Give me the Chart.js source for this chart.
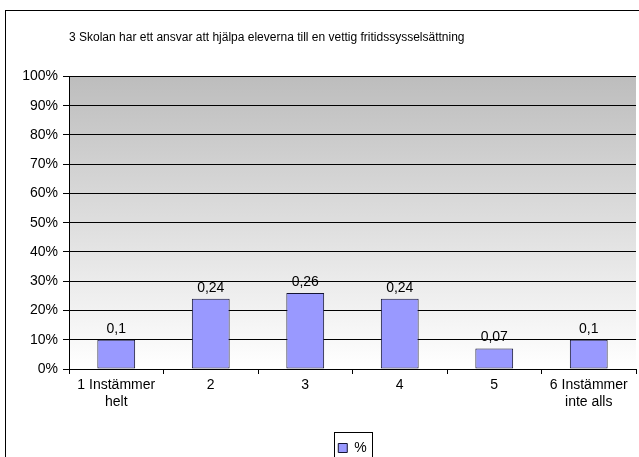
<!DOCTYPE html>
<html>
<head>
<meta charset="utf-8">
<script src="https://cdn.jsdelivr.net/npm/chart.js@4/dist/chart.umd.min.js"></script>
<style>
  html, body { margin: 0; padding: 0; background: #ffffff; }
  #wrap { width: 639px; height: 457px; }
</style>
</head>
<body>
<div id="wrap"><canvas id="chart" width="639" height="457"></canvas></div>
<script>
const titleText = "3 Skolan har ett ansvar att hjälpa eleverna till en vettig fritidssysselsättning";
const categories = [
  ["1 Instämmer", "helt"],
  "2",
  "3",
  "4",
  "5",
  ["6 Instämmer", "inte alls"],
];
const seriesName = "%";
const values = [0.1, 0.24, 0.26, 0.24, 0.07, 0.1];
const yTicks = [0, 0.1, 0.2, 0.3, 0.4, 0.5, 0.6, 0.7, 0.8, 0.9, 1];

const FONT = "'Liberation Sans', Arial, sans-serif";

// plot background, outer frame and legend frame
const decorPlugin = {
  id: "decor",
  beforeDraw(chart) {
    const { ctx, chartArea } = chart;
    ctx.save();
    const g = ctx.createLinearGradient(0, chartArea.top, 0, chartArea.bottom);
    g.addColorStop(0, "#bdbdbd");
    g.addColorStop(1, "#ffffff");
    ctx.fillStyle = g;
    ctx.fillRect(chartArea.left, chartArea.top, chartArea.right - chartArea.left, chartArea.bottom - chartArea.top);
    ctx.strokeStyle = "#000000";
    ctx.lineWidth = 1;
    ctx.strokeRect(5.5, 10.5, 700, 500);
    ctx.restore();
  },
  afterDraw(chart) {
    const { ctx } = chart;
    const lg = chart.legend;
    if (!lg || !lg.legendHitBoxes || !lg.legendHitBoxes.length) return;
    const hb = lg.legendHitBoxes[0];
    ctx.save();
    ctx.strokeStyle = "#000000";
    ctx.lineWidth = 1;
    ctx.strokeRect(Math.round(hb.left) - 3.5, Math.round(hb.top) - 8.5, Math.round(hb.width) + 10, 40);
    ctx.restore();
  },
};

// value labels above bars
const valueLabels = {
  id: "valueLabels",
  afterDatasetsDraw(chart) {
    const { ctx } = chart;
    const meta = chart.getDatasetMeta(0);
    ctx.save();
    ctx.font = "14px " + FONT;
    ctx.fillStyle = "#000000";
    ctx.textAlign = "center";
    ctx.textBaseline = "bottom";
    meta.data.forEach((bar, i) => {
      const txt = String(values[i]).replace(".", ",");
      ctx.fillText(txt, bar.x, bar.y - 4);
    });
    ctx.restore();
  },
};

new Chart(document.getElementById("chart"), {
  type: "bar",
  data: {
    labels: categories,
    datasets: [
      {
        label: seriesName,
        data: values,
        backgroundColor: "#9999ff",
        borderColor: "#141433",
        borderWidth: 1,
        borderSkipped: false,
        barPercentage: 0.4,
        categoryPercentage: 1,
      },
    ],
  },
  options: {
    responsive: false,
    animation: false,
    layout: { padding: { left: 0, right: 3, top: 0, bottom: -8 } },
    plugins: {
      title: {
        display: true,
        fullSize: false,
        align: "start",
        text: titleText,
        color: "#000000",
        font: { family: FONT, size: 12, weight: "normal" },
        padding: { top: 30, bottom: 32 },
      },
      legend: {
        display: true,
        fullSize: false,
        position: "bottom",
        labels: {
          color: "#000000",
          font: { family: FONT, size: 14 },
          boxWidth: 9,
          boxHeight: 9,
          padding: 2,
          generateLabels() {
            return [{
              text: seriesName,
              fillStyle: "#9999ff",
              strokeStyle: "#141433",
              lineWidth: 1,
              datasetIndex: 0,
            }];
          },
        },
      },
      tooltip: { enabled: false },
    },
    scales: {
      x: {
        offset: true,
        grid: {
          offset: true,
          drawOnChartArea: false,
          drawTicks: true,
          tickLength: 5,
          color: "#000000",
        },
        border: { color: "#000000" },
        ticks: {
          color: "#000000",
          font: { family: FONT, size: 14 },
          maxRotation: 0,
          autoSkip: false,
          padding: 3,
        },
        afterFit(axis) { axis.height = 70; },
      },
      y: {
        min: 0,
        max: 1,
        afterBuildTicks(axis) {
          axis.ticks = yTicks.map((v) => ({ value: v }));
        },
        grid: {
          color: "#000000",
          tickLength: 6,
        },
        border: { color: "#000000" },
        ticks: {
          color: "#000000",
          font: { family: FONT, size: 14 },
          padding: 5,
          callback: (v) => Math.round(v * 100) + "%",
        },
        afterFit(axis) { axis.width = 69; },
      },
    },
  },
  plugins: [decorPlugin, valueLabels],
});
</script>
</body>
</html>
